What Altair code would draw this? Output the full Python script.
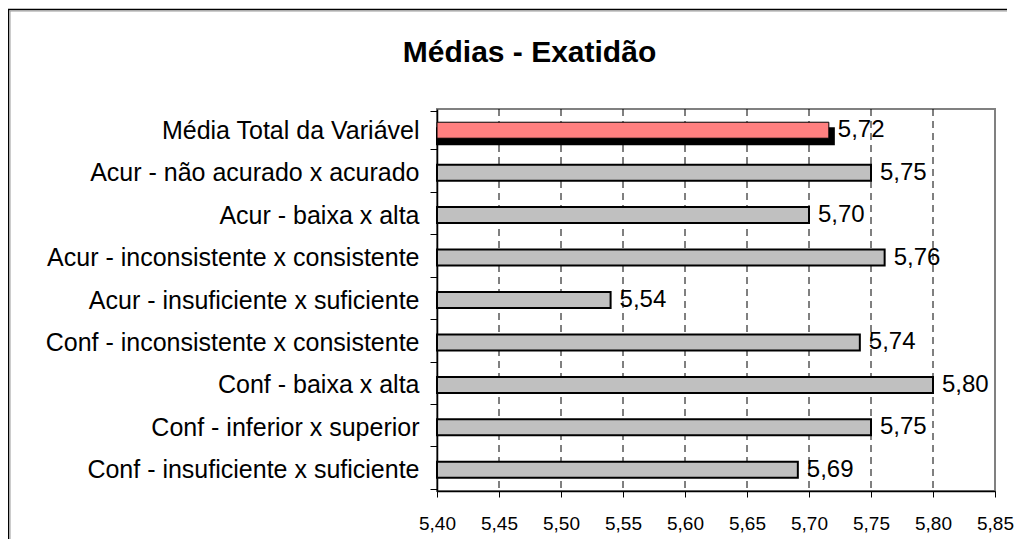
import altair as alt
import pandas as pd

categories = [
    "Média Total da Variável",
    "Acur - não acurado x acurado",
    "Acur - baixa x alta",
    "Acur - inconsistente x consistente",
    "Acur - insuficiente x suficiente",
    "Conf - inconsistente x consistente",
    "Conf - baixa x alta",
    "Conf - inferior x superior",
    "Conf - insuficiente x suficiente",
]
values = [5.716, 5.75, 5.70, 5.761, 5.54, 5.741, 5.80, 5.75, 5.691]
kinds = ["total"] + ["grupo"] * 8
x_ticks = [5.40, 5.45, 5.50, 5.55, 5.60, 5.65, 5.70, 5.75, 5.80, 5.85]
grid_values = [5.45, 5.50, 5.55, 5.60, 5.65, 5.70, 5.75, 5.80]
title_text = ["Médias - Exatidão"]

FONT = "Liberation Sans"

df = pd.DataFrame({"cat": categories, "v": values, "kind": kinds})
grid_df = pd.DataFrame({"v": grid_values})
one_df = pd.DataFrame({"f": [0]})
title_df = pd.DataFrame({"t": title_text})

xscale = alt.Scale(domain=[5.40, 5.85], zero=False, nice=False)
xaxis = alt.Axis(
    values=x_ticks,
    labelExpr="replace(format(datum.value, '.2f'), '.', ',')",
    title=None,
    grid=False,
    tickSize=6,
    tickColor="black",
    domainColor="black",
    domainWidth=1.5,
    labelFont=FONT,
    labelFontSize=19,
    labelColor="black",
    labelPadding=17,
    labelFlush=False,
    labelOverlap=False,
)
yaxis = alt.Axis(
    title=None,
    grid=False,
    labelFont=FONT,
    labelFontSize=25,
    labelColor="black",
    labelPadding=11,
    labelLimit=700,
    tickSize=7,
    tickColor="black",
    tickBand="extent",
    domainColor="black",
    domainWidth=1.5,
)

X = alt.X("v:Q", scale=xscale, axis=xaxis)
Y = alt.Y("cat:N", sort=categories, axis=yaxis)

# outer chart frame (left and top edges; right/bottom lie outside the picture)
frame_top = alt.Chart(one_df).mark_rule(color="black", strokeWidth=1.5, clip=False).encode(
    x=alt.value(-429), x2=alt.value(570), y=alt.value(-99.5)
)
frame_left = alt.Chart(one_df).mark_rule(color="black", strokeWidth=1.5, clip=False).encode(
    x=alt.value(-428.5), y=alt.value(-100), y2=alt.value(430)
)
frame_top2 = alt.Chart(one_df).mark_rule(color="#9a9a9a", strokeWidth=1, clip=False).encode(
    x=alt.value(-427.5), x2=alt.value(570), y=alt.value(-98)
)
frame_left2 = alt.Chart(one_df).mark_rule(color="#9a9a9a", strokeWidth=1, clip=False).encode(
    x=alt.value(-427), y=alt.value(-98), y2=alt.value(430)
)

title = alt.Chart(title_df).mark_text(
    font=FONT, fontSize=30, fontWeight="bold", color="black",
    align="center", baseline="alphabetic", clip=False
).encode(x=alt.value(92.5), y=alt.value(-47), text="t:N")

grid = alt.Chart(grid_df).mark_rule(
    color="black", strokeDash=[7, 5], strokeWidth=1
).encode(x=X)

shadow = alt.Chart(df).transform_filter(
    "datum.kind == 'total'"
).mark_bar(
    color="black", size=16, xOffset=5, yOffset=6, stroke="black", strokeWidth=2
).encode(x=X, x2=alt.datum(5.40), y=Y)

bars = alt.Chart(df).mark_bar(size=16, stroke="black").encode(
    x=X,
    x2=alt.datum(5.40),
    y=Y,
    color=alt.Color(
        "kind:N",
        scale=alt.Scale(domain=["total", "grupo"], range=["#FF8080", "#C0C0C0"]),
        legend=None,
    ),
    strokeWidth=alt.StrokeWidth(
        "kind:N", scale=alt.Scale(domain=["total", "grupo"], range=[1, 2]), legend=None
    ),
)

text = alt.Chart(df).transform_calculate(
    lbl="replace(format(datum.v, '.2f'), '.', ',')"
).mark_text(
    align="left", baseline="middle", dx=9, font=FONT, fontSize=24, color="black"
).encode(x=X, y=Y, text="lbl:N")

chart = alt.layer(
    frame_top, frame_left, frame_top2, frame_left2, grid, shadow, bars, text, title
).properties(
    width=558,
    height=382,
    autosize=alt.AutoSizeParams(type="none"),
    padding={"left": 429, "top": 101, "right": 25, "bottom": 50},
    background="white",
).configure_view(stroke="#808080", strokeWidth=2)

chart.save("out.html", embed_options={"renderer": "svg", "actions": False})
